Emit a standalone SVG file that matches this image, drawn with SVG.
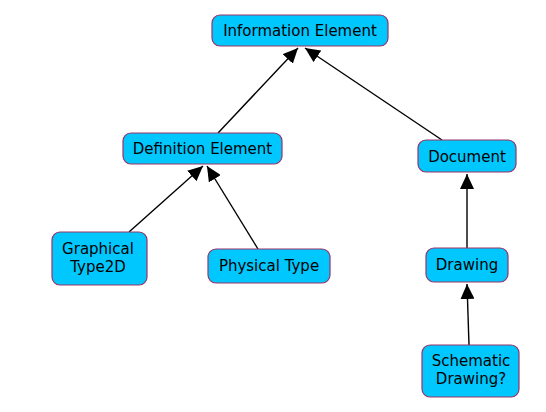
<svg xmlns="http://www.w3.org/2000/svg" width="546" height="412" viewBox="0 0 546 412">
<style>
.box{fill:#00c8ff;stroke:#993366;stroke-width:1.2}
.lbl{font-family:"DejaVu Sans",Verdana,sans-serif;font-size:15px;fill:#000;text-anchor:middle}
.edge{stroke:#000;stroke-width:1.4;fill:none}
</style>
<defs>
<marker id="arr" markerUnits="userSpaceOnUse" markerWidth="16" markerHeight="14" refX="15" refY="7" orient="auto">
<path d="M0,0 L15,7 L0,14 Z" fill="#000"/>
</marker>
</defs>
<rect width="546" height="412" fill="#fff"/>
<g id="connectors">
<line class="edge" x1="218" y1="133" x2="298" y2="48" marker-end="url(#arr)"/>
<line class="edge" x1="442" y1="140" x2="305" y2="48" marker-end="url(#arr)"/>
<line class="edge" x1="129" y1="232" x2="203" y2="166" marker-end="url(#arr)"/>
<line class="edge" x1="258" y1="249" x2="207" y2="166" marker-end="url(#arr)"/>
<line class="edge" x1="467" y1="248" x2="467" y2="174" marker-end="url(#arr)"/>
<line class="edge" x1="469" y1="345" x2="467" y2="284" marker-end="url(#arr)"/>
</g>
<g id="information-element">
<rect class="box" x="212" y="15" width="176" height="31" rx="8"/>
<text class="lbl" x="300" y="36">Information Element</text>
</g>
<g id="definition-element">
<rect class="box" x="123" y="133" width="159" height="31" rx="8"/>
<text class="lbl" x="202.5" y="154">Definition Element</text>
</g>
<g id="document">
<rect class="box" x="418" y="140" width="98" height="32" rx="8"/>
<text class="lbl" x="467" y="161.5">Document</text>
</g>
<g id="graphical-type2d">
<rect class="box" x="52" y="232" width="95" height="53" rx="8"/>
<text class="lbl" x="98" y="254">Graphical</text>
<text class="lbl" x="98" y="272">Type2D</text>
</g>
<g id="physical-type">
<rect class="box" x="208" y="249" width="122" height="34" rx="8"/>
<text class="lbl" x="269" y="271">Physical Type</text>
</g>
<g id="drawing">
<rect class="box" x="426" y="248" width="82" height="34" rx="8"/>
<text class="lbl" x="467" y="270">Drawing</text>
</g>
<g id="schematic-drawing">
<rect class="box" x="422" y="345" width="97" height="52" rx="8"/>
<text class="lbl" x="471" y="366">Schematic</text>
<text class="lbl" x="471" y="384">Drawing?</text>
</g>
</svg>
